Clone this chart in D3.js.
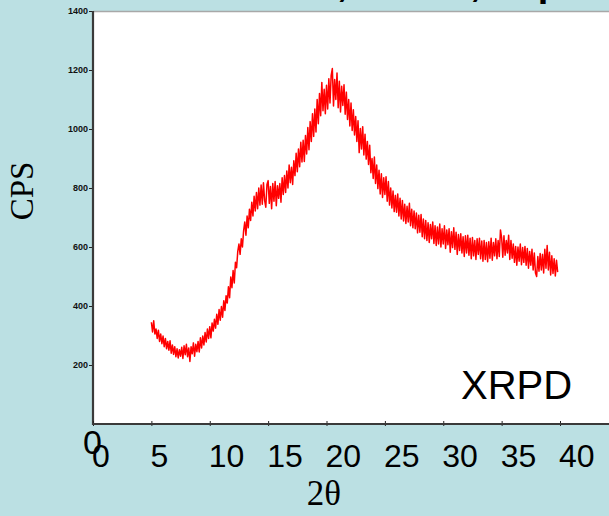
<!DOCTYPE html>
<html>
<head>
<meta charset="utf-8">
<script src="https://cdn.jsdelivr.net/npm/d3@7"></script>
<style>
  html, body { margin: 0; padding: 0; background: #bbe0e3; }
  svg { display: block; }
</style>
</head>
<body>
<script>
// XRPD pattern at 0.1 deg steps from 5.0 to 39.8
const startAngle = 5.0;
const stepAngle = 0.1;
const cps = [
  345, 312, 350, 305, 322, 290, 318, 280, 305, 272,
  298, 262, 290, 255, 280, 250, 282, 240, 268, 236,
  262, 228, 255, 224, 252, 230, 260, 222, 265, 235,
  270, 228, 258, 212, 262, 238, 275, 230, 270, 245,
  280, 244, 292, 258, 298, 268, 310, 278, 322, 290,
  330, 292, 342, 315, 355, 325, 372, 338, 388, 352,
  398, 362, 418, 385, 435, 410, 465, 428, 498, 462,
  520, 478, 548, 530, 585, 610, 575, 628, 600, 655,
  685, 640, 705, 665, 728, 690, 752, 705, 772, 722,
  785, 730, 800, 742, 810, 745, 818, 758, 735, 812,
  825, 748, 805, 730, 815, 755, 822, 740, 808, 765,
  815, 752, 835, 778, 842, 785, 858, 800, 878, 818,
  870, 812, 892, 842, 918, 855, 932, 872, 955, 888,
  962, 890, 978, 915, 1005, 930, 1025, 958, 1052, 975,
  1068, 990, 1100, 1018, 1120, 1045, 1158, 1062, 1135, 1052,
  1148, 1068, 1170, 1088, 1182, 1205, 1078, 1168, 1100, 1190,
  1072, 1162, 1058, 1145, 1080, 1150, 1050, 1125, 1032, 1100,
  1010, 1088, 995, 1065, 980, 1042, 958, 1028, 920, 1002,
  932, 1008, 912, 982, 898, 958, 880, 945, 852, 900,
  832, 905, 815, 878, 798, 860, 780, 848, 768, 835,
  778, 838, 755, 822, 742, 800, 732, 790, 720, 775,
  718, 780, 705, 765, 695, 758, 688, 745, 680, 738,
  685, 748, 672, 728, 665, 722, 662, 715, 648, 708,
  650, 710, 635, 695, 628, 690, 622, 682, 615, 676,
  628, 685, 612, 672, 605, 668, 610, 678, 600, 662,
  610, 672, 595, 658, 608, 662, 582, 652, 598, 665,
  592, 650, 575, 642, 588, 645, 580, 635, 568, 638,
  580, 640, 572, 630, 560, 632, 570, 622, 558, 628,
  575, 630, 560, 620, 552, 622, 558, 615, 550, 618,
  562, 630, 555, 615, 570, 628, 560, 622, 568, 658,
  632, 565, 638, 572, 622, 580, 640, 558, 622, 562,
  610, 548, 602, 538, 600, 552, 610, 540, 598, 548,
  602, 538, 595, 528, 585, 538, 592, 522, 580, 512,
  500, 568, 518, 578, 522, 575, 512, 592, 528, 605,
  522, 582, 505, 570, 510, 560, 502, 555, 515
];

const xTicks = [0, 5, 10, 15, 20, 25, 30, 35, 40];
const yTicks = [200, 400, 600, 800, 1000, 1200, 1400];
const titleText = "Milled Solid, Lot 12, Exp";
const xTitle = "2\u03b8";
const yTitle = "CPS";
const tag = "XRPD";

const width = 609;
const height = 516;

const svg = d3.select("body").append("svg")
    .attr("width", width)
    .attr("height", height);

const x = d3.scaleLinear().domain([0, 40]).range([93, 560]);
const y = d3.scaleLinear().domain([0, 1400]).range([424, 11]);

// white plot panel
svg.append("rect")
    .attr("x", x(0))
    .attr("y", y(1400))
    .attr("width", width - x(0))
    .attr("height", y(0) - y(1400))
    .attr("fill", "#fff");

svg.append("line")
    .attr("x1", x(0)).attr("x2", width)
    .attr("y1", y(1400) + 0.5).attr("y2", y(1400) + 0.5)
    .attr("stroke", "#a8a8a8")
    .attr("stroke-width", 1.5);

// title, mostly cut off by the top edge
svg.append("text")
    .attr("x", 126)
    .attr("y", -4)
    .attr("font-family", "'Liberation Sans', Arial, sans-serif")
    .attr("font-weight", "bold")
    .attr("font-size", 38)
    .text(titleText);

const points = cps.map((v, i) => [startAngle + i * stepAngle, v]);

svg.append("path")
    .datum(points)
    .attr("fill", "none")
    .attr("stroke", "#ff0000")
    .attr("stroke-width", 1.5)
    .attr("stroke-linejoin", "round")
    .attr("d", d3.line().x(d => x(d[0])).y(d => y(d[1])));

// y axis
const gy = svg.append("g")
    .attr("transform", `translate(${x(0)},0)`)
    .call(d3.axisLeft(y).tickValues(yTicks).tickFormat(d3.format("d")).tickSize(4).tickPadding(1));
gy.select(".domain").remove();
gy.selectAll(".tick line").attr("stroke", "#222").attr("stroke-width", 1);
gy.selectAll(".tick text")
    .attr("font-family", "'Liberation Sans', Arial, sans-serif")
    .attr("font-weight", "bold")
    .attr("font-size", 9)
    .attr("fill", "#111");

svg.append("line")
    .attr("x1", x(0)).attr("x2", x(0))
    .attr("y1", y(1400)).attr("y2", y(0) + 1)
    .attr("stroke", "#3a3a3a")
    .attr("stroke-width", 2.2);

// x axis
const gx = svg.append("g")
    .attr("transform", `translate(0,${y(0) - 3})`)
    .call(d3.axisBottom(x).tickValues(xTicks).tickSize(5).tickPadding(0));
gx.select(".domain").remove();
gx.selectAll(".tick line").attr("stroke", "#222").attr("stroke-width", 1);
gx.selectAll(".tick text")
    .attr("text-anchor", "start")
    .attr("x", -1.5)
    .attr("y", 467 - (y(0) - 3))
    .attr("dy", 0)
    .attr("font-family", "'Liberation Sans', Arial, sans-serif")
    .attr("font-size", 32)
    .attr("fill", "#000");

svg.append("line")
    .attr("x1", x(0) - 1).attr("x2", width)
    .attr("y1", y(0)).attr("y2", y(0))
    .attr("stroke", "#3a3a3a")
    .attr("stroke-width", 2);

// zero label of the y axis, overlapping the x one
svg.append("text")
    .attr("x", 83)
    .attr("y", 454)
    .attr("font-family", "'Liberation Sans', Arial, sans-serif")
    .attr("font-size", 34)
    .attr("fill", "#000")
    .text("0");

svg.append("text")
    .attr("x", 324)
    .attr("y", 505)
    .attr("text-anchor", "middle")
    .attr("font-family", "'Liberation Serif', 'Times New Roman', serif")
    .attr("font-size", 35)
    .text(xTitle);

svg.append("text")
    .attr("transform", "translate(33,191) rotate(-90)")
    .attr("text-anchor", "middle")
    .attr("font-family", "'Liberation Serif', 'Times New Roman', serif")
    .attr("font-size", 33)
    .text(yTitle);

svg.append("text")
    .attr("x", 461)
    .attr("y", 399)
    .attr("font-family", "'Liberation Sans', Arial, sans-serif")
    .attr("font-size", 40)
    .text(tag);
</script>
</body>
</html>
